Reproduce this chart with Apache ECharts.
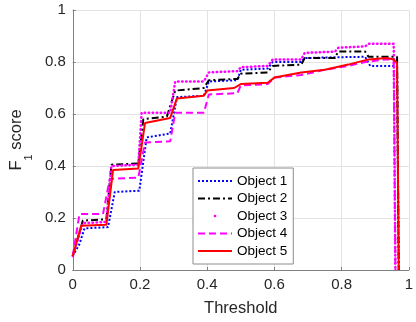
<!DOCTYPE html>
<html><head><meta charset="utf-8">
<script src="https://cdn.jsdelivr.net/npm/echarts@6/dist/echarts.min.js"></script>
<style>html,body{margin:0;padding:0;background:#fff}#c{width:416px;height:322px}</style>
</head><body><div id="c"></div>
<script>
const seriesNames = ['Object 1', 'Object 2', 'Object 3', 'Object 4', 'Object 5'];
const xTickValues = [0, 0.2, 0.4, 0.6, 0.8, 1];
const yTickValues = [0, 0.2, 0.4, 0.6, 0.8, 1];

const obj1X = [0, 0.02, 0.035, 0.105, 0.125, 0.198, 0.22, 0.29, 0.31, 0.39, 0.405, 0.49, 0.50, 0.58, 0.595, 0.68, 0.69, 0.77, 0.87, 0.885, 0.965, 0.97];
const obj1Y = [0.054, 0.10, 0.16, 0.165, 0.30, 0.305, 0.51, 0.525, 0.665, 0.67, 0.725, 0.73, 0.77, 0.775, 0.80, 0.80, 0.815, 0.818, 0.82, 0.785, 0.785, 0];

const obj2X = [0, 0.03, 0.1, 0.115, 0.195, 0.21, 0.28, 0.305, 0.39, 0.405, 0.49, 0.50, 0.58, 0.595, 0.68, 0.69, 0.78, 0.79, 0.87, 0.88, 0.965, 0.97];
const obj2Y = [0.054, 0.19, 0.195, 0.405, 0.41, 0.58, 0.59, 0.69, 0.70, 0.73, 0.735, 0.755, 0.76, 0.785, 0.79, 0.815, 0.815, 0.84, 0.84, 0.82, 0.82, 0];

const obj3X = [0, 0.03, 0.1, 0.115, 0.195, 0.205, 0.29, 0.305, 0.39, 0.405, 0.49, 0.50, 0.58, 0.595, 0.68, 0.69, 0.78, 0.79, 0.87, 0.88, 0.955, 0.96];
const obj3Y = [0.054, 0.18, 0.185, 0.40, 0.405, 0.605, 0.605, 0.725, 0.725, 0.76, 0.765, 0.78, 0.785, 0.81, 0.81, 0.835, 0.84, 0.855, 0.86, 0.87, 0.87, 0];

const obj4X = [0, 0.02, 0.09, 0.11, 0.195, 0.215, 0.29, 0.305, 0.39, 0.405, 0.49, 0.50, 0.58, 0.60, 0.68, 0.75, 0.82, 0.87, 0.93, 0.955, 0.96];
const obj4Y = [0.054, 0.215, 0.215, 0.35, 0.355, 0.49, 0.495, 0.605, 0.605, 0.675, 0.68, 0.71, 0.715, 0.74, 0.75, 0.77, 0.785, 0.80, 0.81, 0.81, 0];

const obj5X = [0, 0.025, 0.1, 0.12, 0.195, 0.215, 0.29, 0.31, 0.39, 0.40, 0.48, 0.50, 0.58, 0.60, 0.68, 0.75, 0.82, 0.88, 0.935, 0.955, 0.965, 0.97];
const obj5Y = [0.054, 0.17, 0.174, 0.385, 0.39, 0.565, 0.585, 0.66, 0.67, 0.69, 0.70, 0.715, 0.72, 0.74, 0.76, 0.77, 0.79, 0.81, 0.815, 0.81, 0.795, 0];

const xs = [obj1X, obj2X, obj3X, obj4X, obj5X];
const ys = [obj1Y, obj2Y, obj3Y, obj4Y, obj5Y];
const colors = ['#0000ff', '#000000', '#ff00ff', '#ff00ff', '#ff0000'];
const dashes = [[2, 2], [7, 3, 2, 3], [0.5, 3.5], [7, 4], 'solid'];
const widths = [2, 2, 2.5, 2, 2];
const FONT = '"Liberation Sans", Arial, sans-serif';

const chart = echarts.init(document.getElementById('c'), null, {renderer: 'canvas'});
const series = seriesNames.map((n, i) => ({
  name: n,
  type: 'line',
  symbol: 'none',
  showSymbol: false,
  animation: false,
  color: colors[i],
  itemStyle: {color: colors[i]},
  lineStyle: {color: colors[i], width: widths[i], type: dashes[i], cap: i === 2 ? 'round' : 'butt'},
  data: xs[i].map((x, k) => [x, ys[i][k]])
}));

chart.setOption({
  animation: false,
  backgroundColor: '#fff',
  grid: {left: 70, right: 3, top: 10, bottom: 51, containLabel: false},
  xAxis: {
    type: 'value', min: 0, max: 1, interval: 0.2,
    name: 'Threshold', nameLocation: 'middle', nameGap: 30,
    nameTextStyle: {fontSize: 16.5, color: '#262626', fontFamily: FONT},
    axisLine: {show: true, lineStyle: {color: '#808080', width: 1}},
    axisTick: {show: true, inside: true, length: 3, lineStyle: {color: '#808080'}},
    axisLabel: {fontSize: 15, color: '#262626', fontFamily: FONT, margin: 7,
      formatter: v => xTickValues.includes(+v.toFixed(2)) ? String(+v.toFixed(2)) : ''},
    splitLine: {show: true, lineStyle: {color: '#e3e3e3', width: 1}}
  },
  yAxis: {
    type: 'value', min: 0, max: 1, interval: 0.2,
    name: '{a|F}{s|1}{a| score}', nameLocation: 'middle', nameGap: 26, nameRotate: 90,
    nameTextStyle: {fontFamily: FONT, color: '#262626',
      rich: {
        a: {fontSize: 16.5, lineHeight: 16, verticalAlign: 'top', color: '#262626', fontFamily: FONT},
        s: {fontSize: 11, lineHeight: 26, verticalAlign: 'bottom', color: '#262626', fontFamily: FONT}
      }},
    axisLine: {show: true, lineStyle: {color: '#808080', width: 1}},
    axisTick: {show: true, inside: true, length: 3, lineStyle: {color: '#808080'}},
    axisLabel: {fontSize: 15, color: '#262626', fontFamily: FONT, margin: 7,
      formatter: v => yTickValues.includes(+v.toFixed(2)) ? String(+v.toFixed(2)) : ''},
    splitLine: {show: true, lineStyle: {color: '#e3e3e3', width: 1}}
  },
  legend: {
    orient: 'vertical', left: 193, top: 168,
    padding: [6, 6, 6, 4], itemGap: 3.5, itemWidth: 34, itemHeight: 14,
    backgroundColor: '#fff', borderColor: '#8c8c8c', borderWidth: 1, borderRadius: 0,
    itemStyle: {opacity: 0},
    textStyle: {fontSize: 13.5, color: '#000', fontFamily: FONT},
    data: seriesNames.map((n, i) => i === 2
      ? {name: n, icon: 'path://M0,0M34,14M15.8,5.8h2.4v2.4h-2.4z', itemStyle: {opacity: 1, color: colors[i]}}
      : {name: n})
  },
  series: series
});
</script></body></html>
